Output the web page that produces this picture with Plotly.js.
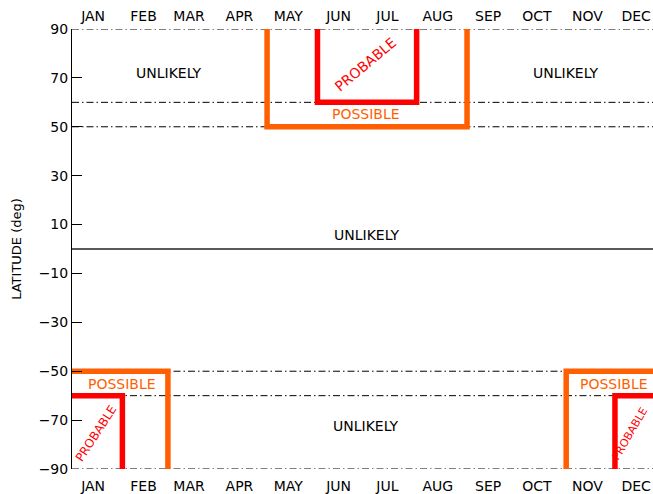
<!DOCTYPE html>
<html>
<head>
<meta charset="utf-8">
<script src="https://cdn.plot.ly/plotly-3.0.1.min.js"></script>
<style>html,body{margin:0;padding:0;background:#fff;}#chart{width:653px;height:494px;}</style>
</head>
<body>
<div id="chart"></div>
<script>
// Month labels and first day-of-year of each month
const months = ['JAN','FEB','MAR','APR','MAY','JUN','JUL','AUG','SEP','OCT','NOV','DEC'];
const monthStart = [1, 32, 60, 91, 121, 152, 182, 213, 244, 274, 305, 335];
const yearEnd = 366;

// Latitude tick values
const latTicks = [-90, -70, -50, -30, -10, 10, 30, 50, 70, 90];
// Dash-dot boundary latitudes
const boundaryLats = [90, 60, 50, -50, -60, -90];

// Northern summer windows (day of year) and latitude limits
const northPossible = {start: 121, end: 244, lat: 50};
const northProbable = {start: 152, end: 213, lat: 60};
// Southern summer windows (wrap over year end)
const southPossible = {start: 305, end: 60, lat: -50};
const southProbable = {start: 335, end: 32, lat: -60};

const ORANGE = '#FF5F00';
const RED = '#FF0000';
const FONT = 'DejaVu Sans';

const traces = [];
boundaryLats.forEach(lat => {
  traces.push({x: [1, yearEnd], y: [lat, lat], mode: 'lines', showlegend: false, hoverinfo: 'skip',
    line: {color: '#000', width: 1, dash: '7px,3px,1.5px,3px'}});
});
// zero latitude line
traces.push({x: [1, yearEnd], y: [0, 0], mode: 'lines', showlegend: false, hoverinfo: 'skip',
  line: {color: '#222', width: 1.5}});

function northBox(w, color) {
  return {x: [w.start, w.start, w.end, w.end], y: [90, w.lat, w.lat, 90], mode: 'lines',
    showlegend: false, hoverinfo: 'skip', line: {color: color, width: 5.5}};
}
function southBox(w, color) {
  return [
    {x: [1, w.end, w.end], y: [w.lat, w.lat, -90], mode: 'lines', showlegend: false, hoverinfo: 'skip',
      line: {color: color, width: 5.5}},
    {x: [w.start, w.start, yearEnd], y: [-90, w.lat, w.lat], mode: 'lines', showlegend: false, hoverinfo: 'skip',
      line: {color: color, width: 5.5}}
  ];
}
traces.push(northBox(northPossible, ORANGE));
traces.push(northBox(northProbable, RED));
traces.push(...southBox(southPossible, ORANGE));
traces.push(...southBox(southProbable, RED));
// invisible trace to activate top axis
traces.push({x: [1], y: [0], xaxis: 'x2', mode: 'markers', marker: {opacity: 0}, showlegend: false, hoverinfo: 'skip'});

const tickPos = monthStart.map(d => d + 13);

function ann(text, x, y, color, angle, size) {
  return {text: text, x: x, y: y, xref: 'x', yref: 'y', showarrow: false, borderpad: 0,
    textangle: angle || 0, font: {family: FONT, size: size || 14, color: color}};
}

const layout = {
  width: 653, height: 494,
  margin: {l: 72, r: 0, t: 29, b: 25},
  paper_bgcolor: '#fff', plot_bgcolor: '#fff',
  showlegend: false,
  font: {family: FONT, size: 14, color: '#000'},
  xaxis: {range: [1, 358.4], tickvals: tickPos, ticktext: months, ticks: '', showgrid: false,
    zeroline: false, showline: false, tickfont: {family: FONT, size: 14, color: '#000'}, fixedrange: true,
    ticklabelstandoff: 7},
  xaxis2: {overlaying: 'x', side: 'top', matches: 'x', range: [1, 358.4], tickvals: tickPos, ticktext: months,
    ticks: '', showgrid: false, zeroline: false, showline: false, tickfont: {family: FONT, size: 14, color: '#000'},
    ticklabelstandoff: 4},
  yaxis: {range: [-90, 90], tickvals: latTicks, ticks: 'inside', ticklen: 10, tickcolor: '#000', tickwidth: 1,
    showline: true, linecolor: '#000', linewidth: 1, showgrid: false, zeroline: false,
    tickfont: {family: FONT, size: 14, color: '#000'},
    title: {text: 'LATITUDE (deg)', font: {family: FONT, size: 13, color: '#000'}, standoff: 14}},
  annotations: [
    ann('UNLIKELY', 60.7, 72, '#000'),
    ann('UNLIKELY', 304.8, 72, '#000'),
    ann('UNLIKELY', 182.4, 5.7, '#000'),
    ann('UNLIKELY', 181.8, -72.4, '#000'),
    ann('POSSIBLE', 181.8, 55.2, ORANGE),
    ann('POSSIBLE', 31.8, -55.2, ORANGE),
    ann('POSSIBLE', 334.7, -55.2, ORANGE),
    ann('PROBABLE', 181.8, 75.7, RED, -40),
    ann('PROBABLE', 15.5, -75.5, RED, -57, 12),
    ann('PROBABLE', 344.2, -75.3, RED, -60, 11)
  ]
};

Plotly.newPlot('chart', traces, layout, {staticPlot: true, displayModeBar: false});
</script>
</body>
</html>
